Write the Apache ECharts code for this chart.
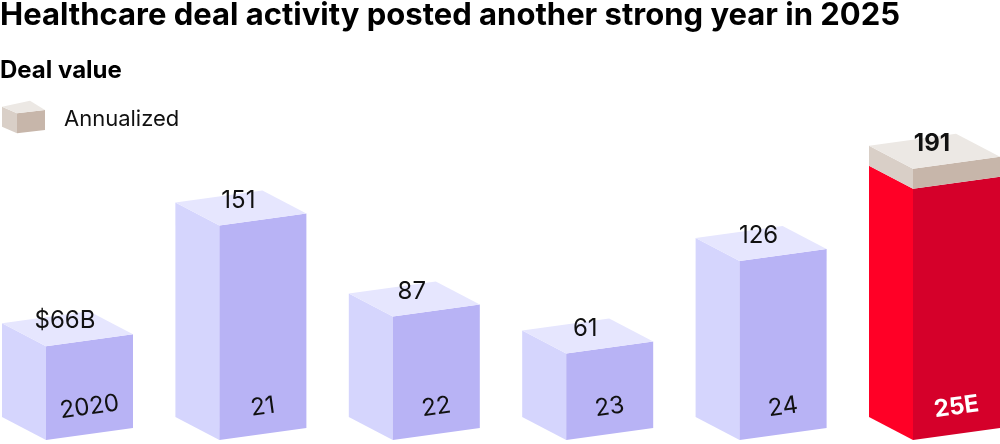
<!DOCTYPE html>
<html>
<head>
<meta charset="utf-8">
<script src="https://cdn.jsdelivr.net/npm/echarts@6/dist/echarts.min.js"></script>
<style>
html,body{margin:0;padding:0;background:#fff;}
#chart{width:1000px;height:444px;}
</style>
</head>
<body>
<div id="chart"></div>
<script>
const categories = ['2020', '21', '22', '23', '24', '25E'];
const dealValues = [66, 151, 87, 61, 126, 177];
const annualizedValues = [0, 0, 0, 0, 0, 14];
const valueLabels = ['$66B', '151', '87', '61', '126', '191'];

const FONT = 'Inter, Roboto, "Noto Sans", sans-serif';
const L = 44, LD = 23, R = 87, RD = 12;

const purple = { left: '#d5d5fd', right: '#b8b3f5', top: '#e6e6fe' };
const red = { left: '#ff0026', right: '#d5002a', top: '#ff3050' };
const cap = { left: '#d9cfc7', right: '#c7b6aa', top: '#ece8e4' };

function faces(fx, by, ty, cols, showTop) {
  const out = [
    { type: 'polygon', shape: { points: [[fx - L, by - LD], [fx, by], [fx, ty], [fx - L, ty - LD]] }, style: { fill: cols.left } },
    { type: 'polygon', shape: { points: [[fx, by], [fx + R, by - RD], [fx + R, ty - RD], [fx, ty]] }, style: { fill: cols.right } }
  ];
  if (showTop) {
    out.push({ type: 'polygon', shape: { points: [[fx, ty], [fx + R, ty - RD], [fx - L + R, ty - LD - RD], [fx - L, ty - LD]] }, style: { fill: cols.top } });
  }
  return out;
}

function renderItem(params, api) {
  const i = api.value(0);
  const v = api.value(1);
  const a = api.value(2);
  const base = api.coord([i, 0]);
  const topMain = api.coord([i, v]);
  const topAll = api.coord([i, v + a]);
  const fx = base[0], by = base[1];
  const isLast = a > 0;
  let children = [];
  if (isLast) {
    children = children.concat(faces(fx, by, topMain[1], red, false));
    children = children.concat(faces(fx, topMain[1], topAll[1], cap, true));
  } else {
    children = children.concat(faces(fx, by, topMain[1], purple, true));
  }
  const ty = topAll[1];
  children.push({
    type: 'text',
    x: fx + 19, y: ty - 25,
    style: {
      text: valueLabels[i], fill: '#111', font: (isLast ? '700 ' : '400 ') + '24px ' + FONT,
      align: 'center', verticalAlign: 'middle'
    }
  });
  children.push({
    type: 'text',
    x: fx + R / 2, y: by - 33,
    rotation: Math.atan(RD / R),
    style: {
      text: categories[i], fill: isLast ? '#fff' : '#111', font: (isLast ? '700 ' : '400 ') + '24px ' + FONT,
      align: 'center', verticalAlign: 'middle'
    }
  });
  return { type: 'group', children: children };
}

const chart = echarts.init(document.getElementById('chart'));
chart.setOption({
  backgroundColor: '#fff',
  animation: false,
  title: [
    { text: 'Healthcare deal activity posted another strong year in 2025', left: 0, top: 0, padding: 0,
      textStyle: { fontFamily: FONT, fontWeight: 700, fontSize: 31, color: '#000' } },
    { text: 'Deal value', left: 0, top: 59, padding: 0,
      textStyle: { fontFamily: FONT, fontWeight: 700, fontSize: 24, color: '#000' } }
  ],
  grid: { left: 46, right: 87, top: 156, bottom: 4 },
  xAxis: { type: 'category', data: categories, boundaryGap: false, show: false },
  yAxis: { type: 'value', min: 0, max: 200, show: false },
  graphic: [
    { type: 'polygon', shape: { points: [[2, 126.7], [17, 133.3], [17, 113.3], [2, 106.7]] }, style: { fill: '#d9cfc7' } },
    { type: 'polygon', shape: { points: [[17, 133.3], [45, 130], [45, 110], [17, 113.3]] }, style: { fill: '#c7b6aa' } },
    { type: 'polygon', shape: { points: [[17, 113.3], [45, 110], [30, 100.7], [2, 106.7]] }, style: { fill: '#ece8e4' } },
    { type: 'text', left: 64, top: 108, style: { text: 'Annualized', fill: '#111', font: '400 22px ' + FONT } }
  ],
  series: [{
    type: 'custom',
    renderItem: renderItem,
    data: categories.map((c, i) => [i, dealValues[i], annualizedValues[i]]),
    clip: false
  }]
});
</script>
</body>
</html>
